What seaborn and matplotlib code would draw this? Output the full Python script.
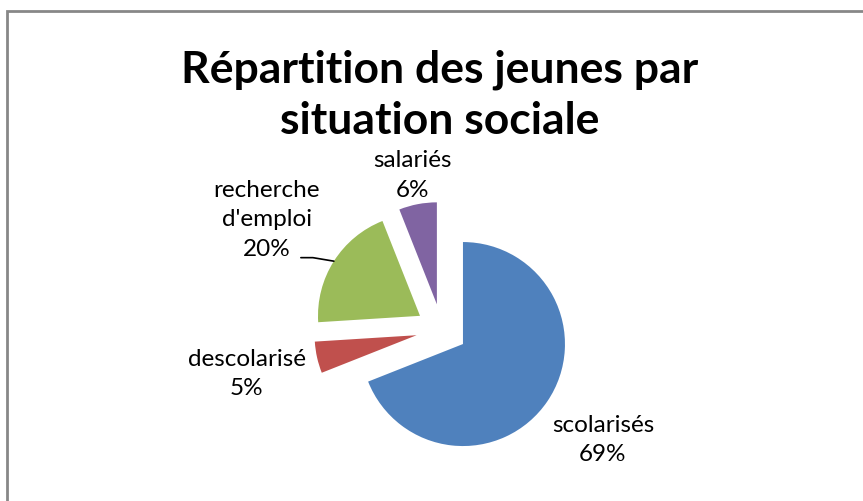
import numpy as np
import seaborn as sns
import matplotlib.pyplot as plt

# data
categories = ["scolarisés", "descolarisé", "recherche\nd'emploi", "salariés"]
shares = [69, 5, 20, 6]
colors = ["#4F81BD", "#C0504D", "#9BBB59", "#8064A2"]
label_dist = [1.91, 1.96, 2.03, 1.55]

sns.set_theme(style="white")
plt.rcParams["font.family"] = ["Lato", "DejaVu Sans"]

W, H = 863, 502
fig = plt.figure(figsize=(W / 100, H / 100), dpi=100)
ax = fig.add_axes([0, 0, 1, 1])

# pie drawn in pixel-sized data units, so explode is in the same units
cx, cy, R = 441.7, H - 330.6, 102
wedges, _ = ax.pie(shares, colors=colors, startangle=90, counterclock=False,
                   explode=[0.252 * R] * len(shares), radius=R, center=(cx, cy),
                   wedgeprops=dict(linewidth=0), frame=True)
ax.set_xlim(0, W)
ax.set_ylim(0, H)
ax.set_aspect("equal")
ax.axis("off")

for w, lab, pct, d in zip(wedges, categories, shares, label_dist):
    ang = np.deg2rad((w.theta1 + w.theta2) / 2)
    tx, ty = cx + d * R * np.cos(ang), cy + d * R * np.sin(ang)
    ax.text(tx, ty, f"{lab}\n{pct}%", ha="center", va="center",
            fontsize=17.5, linespacing=1.5, color="black")
    if "emploi" in lab:
        wx, wy = w.center
        ex, ey = wx + R * np.cos(ang), wy + R * np.sin(ang)
        lx, ly = tx + 34, ty - 39
        ax.plot([lx, lx + 12, ex], [ly, ly, ey], color="black", lw=1.2)

fig.text(440 / W, 1 - 95 / H, "Répartition des jeunes par\nsituation sociale",
         ha="center", va="center", fontsize=32, fontweight="bold",
         linespacing=1.32, color="black")

fig.add_artist(plt.Rectangle((7 / W, -0.1), 1.2, 1.1 - 11.5 / H,
                             transform=fig.transFigure, fill=False,
                             edgecolor="#878787", lw=2))

fig.savefig("out.png", dpi=100, facecolor="white")
